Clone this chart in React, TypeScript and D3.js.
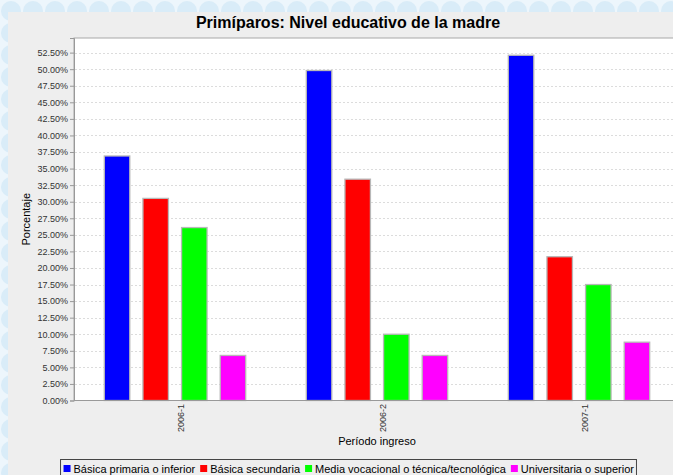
import React, { useEffect, useRef } from "react";
import * as d3 from "d3";

const periods = ["2006-1", "2006-2", "2007-1"];
const levels = [
  "Básica primaria o inferior",
  "Básica secundaria",
  "Media vocacional o técnica/tecnológica",
  "Universitaria o superior",
];
const levelColors = ["#0000ff", "#ff0000", "#00ff00", "#ff00ff"];

// percentages per period, one array per level
const primaria = [36.9, 49.8, 52.1];
const secundaria = [30.5, 33.4, 21.7];
const media = [26.1, 10.0, 17.5];
const universitaria = [6.8, 6.8, 8.8];
const seriesValues = [primaria, secundaria, media, universitaria];

const yTicks = [0, 2.5, 5, 7.5, 10, 12.5, 15, 17.5, 20, 22.5, 25, 27.5, 30, 32.5, 35, 37.5, 40, 42.5, 45, 47.5, 50, 52.5];

const W = 673;
const H = 475;
const FONT = "'Liberation Sans', Arial, sans-serif";

const App: React.FC = () => {
  const ref = useRef<SVGSVGElement | null>(null);

  useEffect(() => {
    if (!ref.current) return;
    const svg = d3.select(ref.current);
    svg.selectAll("*").remove();

    // page background pattern
    const defs = svg.append("defs");
    const pat = defs
      .append("pattern")
      .attr("id", "bgpat")
      .attr("width", 22)
      .attr("height", 22)
      .attr("patternUnits", "userSpaceOnUse");
    pat.append("rect").attr("width", 22).attr("height", 22).attr("fill", "#edf6fc");
    pat.append("circle").attr("cx", 11).attr("cy", 11).attr("r", 10).attr("fill", "#d9ecf8");
    svg.append("rect").attr("width", W).attr("height", H).attr("fill", "url(#bgpat)");

    // chart panel (runs off the right edge, like the original)
    const chartLeft = 8;
    const chartRight = 688;
    svg.append("rect").attr("x", chartLeft).attr("y", 12).attr("width", chartRight - chartLeft).attr("height", H).attr("fill", "#eeeeee");

    const plot = { left: 74, right: 680, top: 38, bottom: 400.5 };

    svg
      .append("text")
      .attr("x", (chartLeft + chartRight) / 2)
      .attr("y", 28)
      .attr("text-anchor", "middle")
      .style("font-family", FONT)
      .style("font-size", "16px")
      .style("font-weight", "bold")
      .text("Primíparos: Nivel educativo de la madre");

    const maxVal = d3.max(seriesValues.flat()) as number;
    const y = d3.scaleLinear().domain([0, maxVal * 1.05]).range([plot.bottom, plot.top]);
    const x0 = d3.scaleBand<string>().domain(periods).range([plot.left, plot.right]).paddingInner(0.3).paddingOuter(0.15);
    const x1 = d3.scaleBand<string>().domain(levels).range([0, x0.bandwidth()]).paddingInner(0.34).paddingOuter(0);

    svg
      .append("rect")
      .attr("x", plot.left)
      .attr("y", plot.top)
      .attr("width", plot.right - plot.left)
      .attr("height", plot.bottom - plot.top)
      .attr("fill", "#ffffff")
      .attr("stroke", "#a8a8a8")
      .attr("stroke-width", 1);

    // gridlines
    svg
      .append("g")
      .selectAll("line")
      .data(yTicks.filter((t) => t > 0))
      .join("line")
      .attr("x1", plot.left + 1)
      .attr("x2", plot.right)
      .attr("y1", (d) => Math.round(y(d)) + 0.5)
      .attr("y2", (d) => Math.round(y(d)) + 0.5)
      .attr("stroke", "#dcdcdc")
      .attr("stroke-dasharray", "2,2");

    // bars
    const groups = svg
      .append("g")
      .selectAll("g")
      .data(periods)
      .join("g")
      .attr("transform", (p) => `translate(${x0(p)},0)`);

    groups
      .selectAll("rect")
      .data((p, pi) => levels.map((l, li) => ({ level: l, color: levelColors[li], value: seriesValues[li][pi] })))
      .join("rect")
      .attr("x", (d) => x1(d.level) as number)
      .attr("width", x1.bandwidth())
      .attr("y", (d) => y(d.value))
      .attr("height", (d) => plot.bottom - y(d.value))
      .attr("fill", (d) => d.color)
      .attr("stroke", "#b8b8b8")
      .attr("stroke-width", 1.3);

    // y axis
    const yAxis = svg
      .append("g")
      .attr("transform", `translate(${plot.left},0)`)
      .call(
        d3
          .axisLeft(y)
          .tickValues(yTicks)
          .tickSize(4)
          .tickPadding(2)
          .tickFormat((d) => `${(d as number).toFixed(2)}%`)
      );
    yAxis.select(".domain").attr("stroke", "#999999");
    yAxis.selectAll(".tick line").attr("stroke", "#999999");
    yAxis.selectAll(".tick text").style("font-family", FONT).style("font-size", "9px").attr("fill", "#333333");

    // x axis
    svg
      .append("line")
      .attr("x1", plot.left)
      .attr("x2", plot.right)
      .attr("y1", plot.bottom)
      .attr("y2", plot.bottom)
      .attr("stroke", "#999999");

    svg
      .append("g")
      .selectAll("text")
      .data(periods)
      .join("text")
      .attr("transform", (p) => `translate(${(x0(p) as number) + x0.bandwidth() / 2 + 5.5},404) rotate(-90)`)
      .attr("text-anchor", "end")
      .attr("dominant-baseline", "central")
      .style("font-family", FONT)
      .style("font-size", "9px")
      .attr("fill", "#333333")
      .text((p) => p);

    svg
      .append("text")
      .attr("x", (plot.left + plot.right) / 2)
      .attr("y", 445)
      .attr("text-anchor", "middle")
      .style("font-family", FONT)
      .style("font-size", "11px")
      .text("Período ingreso");

    svg
      .append("text")
      .attr("transform", `translate(30,${(plot.top + plot.bottom) / 2}) rotate(-90)`)
      .attr("text-anchor", "middle")
      .style("font-family", FONT)
      .style("font-size", "11px")
      .text("Porcentaje");

    // legend
    const legend = svg.append("g");
    const box = legend.append("rect");
    let cx = 63.5;
    levels.forEach((l, i) => {
      legend
        .append("rect")
        .attr("x", cx)
        .attr("y", 465)
        .attr("width", 7)
        .attr("height", 7)
        .attr("fill", levelColors[i]);
      const t = legend
        .append("text")
        .attr("x", cx + 10)
        .attr("y", 473)
        .style("font-family", FONT)
        .style("font-size", "11px")
        .text(l);
      const tw = (t.node() as SVGTextElement).getComputedTextLength();
      cx += 10 + tw + 5;
    });
    const legendW = cx - 5 + 2 - 60;
    const shift = (chartLeft + chartRight) / 2 - (60 + legendW / 2);
    legend.attr("transform", `translate(${shift},0)`);
    box
      .attr("x", 60.5)
      .attr("y", 459.5)
      .attr("width", legendW)
      .attr("height", 18)
      .attr("fill", "#eeeeee")
      .attr("stroke", "#444444");
  }, []);

  return <svg ref={ref} width={W} height={H} style={{ position: "absolute", left: 0, top: 0 }} />;
};

export default App;
